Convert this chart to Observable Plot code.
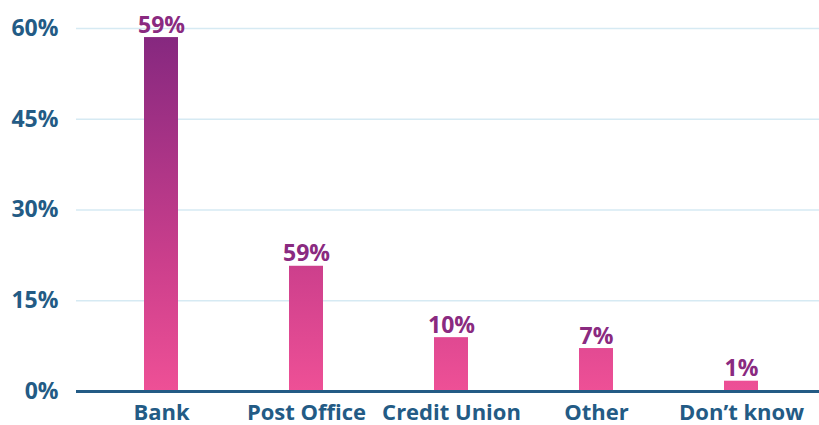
<!DOCTYPE html>
<html><head><meta charset="utf-8">
<script src="https://cdn.jsdelivr.net/npm/d3@7"></script>
<script src="https://cdn.jsdelivr.net/npm/@observablehq/plot@0.6"></script>
<style>
body{margin:0;background:#fff;}
svg{font-family:"Open Sans",sans-serif;}
</style></head>
<body><div id="chart"></div>
<script>
const categories = ["Bank", "Post Office", "Credit Union", "Other", "Don’t know"];
const values = [58.5, 20.7, 8.9, 7.1, 1.7];
const valueLabels = ["59%", "59%", "10%", "7%", "1%"];
const yTicks = [0, 15, 30, 45, 60];

const data = categories.map((c, i) => ({category: c, value: values[i], label: valueLabels[i]}));

const blue = "#235b85";
const purple = "#8a2a80";

const chart = Plot.plot({
  width: 819,
  height: 425,
  marginLeft: 76,
  marginRight: 0,
  marginTop: 28,
  marginBottom: 34,
  style: {fontFamily: "'Open Sans', sans-serif", background: "#fff"},
  x: {domain: categories, range: [76, 826], padding: 0.767, paddingOuter: 0.452, label: null},
  y: {domain: [0, 60], label: null},
  marks: [
    Plot.ruleY(yTicks.filter(d => d > 0), {stroke: "#d6eaf3", strokeWidth: 1.5}),
    Plot.barY(data, {x: "category", y: "value", fill: "url(#barGrad)"}),
    Plot.ruleY([0], {stroke: blue, strokeWidth: 3}),
    Plot.text(data, {x: "category", y: "value", text: "label", lineAnchor: "bottom", dy: -5,
      fill: purple, fontSize: 23, fontWeight: 700}),
    Plot.axisY({ticks: yTicks, tickFormat: d => d + "%", tickSize: 0, tickPadding: 18,
      fontSize: 23, fontWeight: 700, color: blue, label: null}),
    Plot.axisX({tickSize: 0, tickPadding: 13, fontSize: 22, fontWeight: 700, color: blue, label: null})
  ]
});

const y = chart.scale("y");
const svg = d3.select(chart);
const defs = svg.insert("defs", ":first-child");
const g = defs.append("linearGradient").attr("id", "barGrad")
  .attr("gradientUnits", "userSpaceOnUse")
  .attr("x1", 0).attr("x2", 0)
  .attr("y1", y.apply(0)).attr("y2", y.apply(60));
g.append("stop").attr("offset", "0%").attr("stop-color", "#ee5096");
g.append("stop").attr("offset", "35%").attr("stop-color", "#cc3f8c");
g.append("stop").attr("offset", "100%").attr("stop-color", "#83277f");

document.getElementById("chart").appendChild(chart);
</script></body></html>
